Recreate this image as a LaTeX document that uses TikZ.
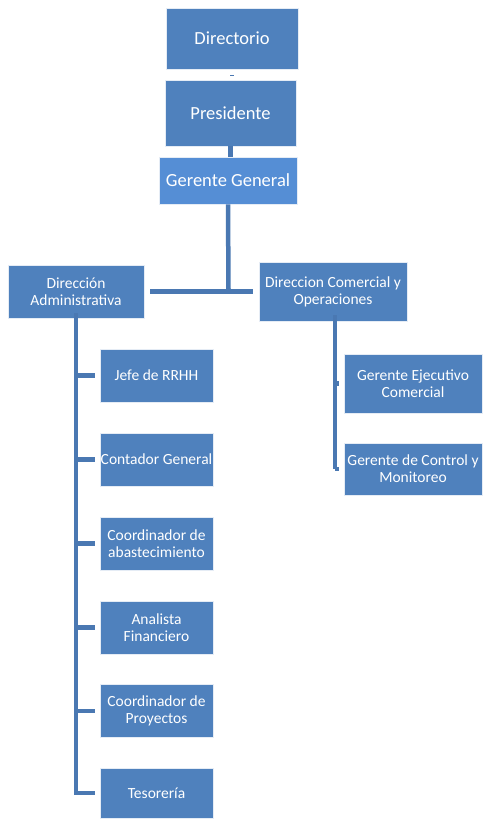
\documentclass[tikz,border=0pt]{standalone}
\usepackage{fontspec}
\setmainfont{Carlito}
\definecolor{boxblue}{HTML}{4F81BD}
\definecolor{ggblue}{HTML}{558ED5}
\definecolor{lineblue}{HTML}{4A78B2}
\begin{document}
\begin{tikzpicture}[x=1pt,y=-1pt,
  orgbox/.style={draw=white!85!boxblue,line width=0.8pt,fill=boxblue,text=white,inner sep=0pt,align=center,font=\fontsize{15.5}{17}\selectfont},
  bigbox/.style={orgbox,font=\fontsize{18.5}{21}\selectfont},
  conn/.style={draw=lineblue,line width=4.5pt}]
\useasboundingbox (0,0) rectangle (482,819);
\fill[white] (0,0) rectangle (482,819);
% top chain
\node[bigbox,minimum width=132pt,minimum height=61pt] (dir) at (232,38.5) {Directorio};
\node[bigbox,minimum width=131pt,minimum height=66pt] (pres) at (230.5,113) {Presidente};
\node[bigbox,fill=ggblue,minimum width=138pt,minimum height=47pt] (gg) at (228,180.5) {Gerente General};
% second level
\node[orgbox,minimum width=136pt,minimum height=53pt] (da) at (76,291.5) {Dirección\\Administrativa};
\node[orgbox,minimum width=148pt,minimum height=59pt] (dco) at (333,291.5) {Direccion Comercial y\\Operaciones};
% admin children
\tikzset{adm/.style={orgbox,minimum width=113pt,minimum height=53pt}}
\node[adm] (rrhh) at (156.5,375.5) {Jefe de RRHH};
\node[adm] (cg) at (156.5,459.5) {Contador General};
\node[adm] (ca) at (156.5,543.5) {Coordinador de\\abastecimiento};
\node[adm] (af) at (156.5,627.5) {Analista\\Financiero};
\node[adm] (cp) at (156.5,711) {Coordinador de\\Proyectos};
\node[adm,minimum height=50pt] (tes) at (156.5,793) {Tesorería};
% commercial children
\node[orgbox,minimum width=138pt,minimum height=59pt] (gec) at (413,383.5) {Gerente Ejecutivo\\Comercial};
\node[orgbox,minimum width=138pt,minimum height=52pt] (gcm) at (413,469) {Gerente de Control y\\Monitoreo};
% connectors
\draw[draw=lineblue,line width=1pt] ([xshift=-2pt,yshift=-6pt]dir.south) -- ([xshift=2pt,yshift=-6pt]dir.south);
\draw[conn] (pres.south) -- (pres.south |- gg.north);
\coordinate (junc) at (228.5,291.5);
\draw[conn] (gg.south) -- ([yshift=2.25pt]junc);
\draw[conn,shorten <=6pt,shorten >=6pt] (da.east) -- (dco.west);
% admin tree
\coordinate (abot) at (76,795);
\draw[conn] ([yshift=5pt]da.south) -- (abot);
\foreach \c in {rrhh,cg,ca,af,cp,tes}
  \draw[conn,shorten >=5pt] (76,0 |- \c.west) -- (\c.west);
% commercial tree
\draw[conn] ([xshift=2pt,yshift=6pt]dco.south) -- (335,469);
\foreach \c in {gec,gcm}
  \draw[conn,shorten >=5pt] (335,0 |- \c.west) -- (\c.west);
\end{tikzpicture}
\end{document}
